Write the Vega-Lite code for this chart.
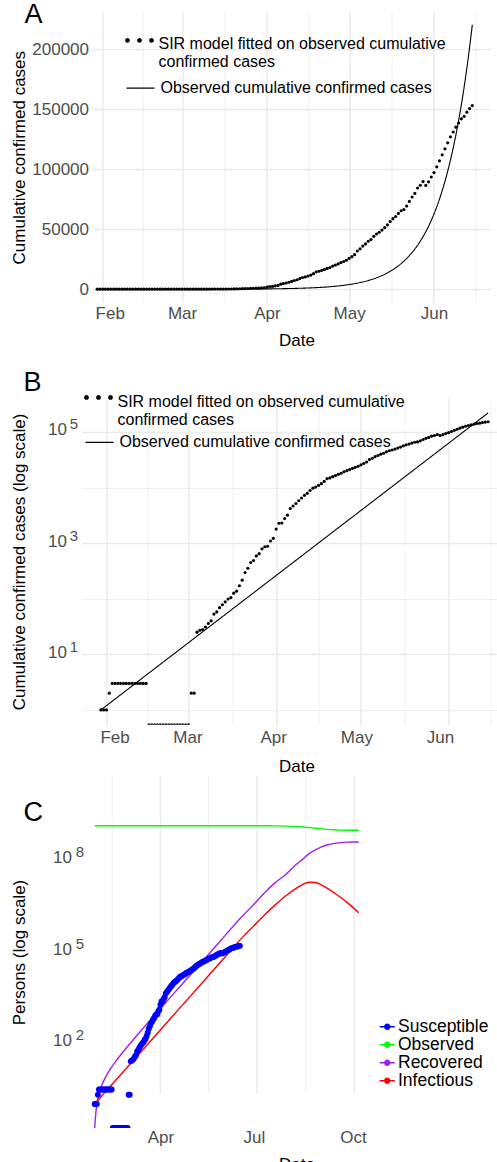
{
  "$schema": "https://vega.github.io/schema/vega-lite/v6.json",
  "background": "white",
  "padding": {"left": 9.5, "top": 1, "right": 0, "bottom": 0},
  "spacing": 0,
  "resolve": {"scale": {"color": "independent", "strokeDash": "independent"}, "legend": {"color": "independent", "strokeDash": "independent"}},
  "config": {
    "font": "Liberation Sans",
    "view": {"stroke": null},
    "axis": {"domain": false, "ticks": false, "grid": true, "gridColor": "#EBEBEB", "labelFontSize": 17, "labelColor": "#4D4D4D", "titleFontSize": 17, "titleFontWeight": "normal", "titleColor": "black", "labelFlush": false, "labelOverlap": false, "labelBound": false},
    "legend": {"labelFontSize": 16, "labelColor": "black", "labelLimit": 600},
    "title": {"fontSize": 27, "fontWeight": "normal", "anchor": "start", "frame": "group", "color": "black", "offset": 0, "baseline": "alphabetic"}
  },
  "datasets": {
    "obs": [
      {"date":"2020-01-30","cases":1},{"date":"2020-01-31","cases":1},{"date":"2020-02-01","cases":1},{"date":"2020-02-02","cases":2},
      {"date":"2020-02-03","cases":3},{"date":"2020-02-04","cases":3},{"date":"2020-02-05","cases":3},{"date":"2020-02-06","cases":3},{"date":"2020-02-07","cases":3},{"date":"2020-02-08","cases":3},{"date":"2020-02-09","cases":3},{"date":"2020-02-10","cases":3},{"date":"2020-02-11","cases":3},{"date":"2020-02-12","cases":3},{"date":"2020-02-13","cases":3},{"date":"2020-02-14","cases":3},{"date":"2020-02-15","cases":3},
      {"date":"2020-02-16","cases":0},{"date":"2020-02-17","cases":0},{"date":"2020-02-18","cases":0},{"date":"2020-02-19","cases":0},{"date":"2020-02-20","cases":0},{"date":"2020-02-21","cases":0},{"date":"2020-02-22","cases":0},{"date":"2020-02-23","cases":0},{"date":"2020-02-24","cases":0},{"date":"2020-02-25","cases":0},{"date":"2020-02-26","cases":0},{"date":"2020-02-27","cases":0},{"date":"2020-02-28","cases":0},{"date":"2020-02-29","cases":0},{"date":"2020-03-01","cases":0},
      {"date":"2020-03-02","cases":2},{"date":"2020-03-03","cases":2},{"date":"2020-03-04","cases":25},{"date":"2020-03-05","cases":27},{"date":"2020-03-06","cases":28},{"date":"2020-03-07","cases":31},{"date":"2020-03-08","cases":36},{"date":"2020-03-09","cases":40},{"date":"2020-03-10","cases":53},{"date":"2020-03-11","cases":58},{"date":"2020-03-12","cases":69},{"date":"2020-03-13","cases":78},{"date":"2020-03-14","cases":88},{"date":"2020-03-15","cases":99},{"date":"2020-03-16","cases":105},{"date":"2020-03-17","cases":126},{"date":"2020-03-18","cases":137},{"date":"2020-03-19","cases":171},{"date":"2020-03-20","cases":216},{"date":"2020-03-21","cases":295},{"date":"2020-03-22","cases":353},{"date":"2020-03-23","cases":448},{"date":"2020-03-24","cases":487},{"date":"2020-03-25","cases":590},{"date":"2020-03-26","cases":648},{"date":"2020-03-27","cases":790},{"date":"2020-03-28","cases":861},{"date":"2020-03-29","cases":880},{"date":"2020-03-30","cases":1093},{"date":"2020-03-31","cases":1223},
      {"date":"2020-04-01","cases":1792},{"date":"2020-04-02","cases":2280},{"date":"2020-04-03","cases":2303},{"date":"2020-04-04","cases":2778},{"date":"2020-04-05","cases":3187},{"date":"2020-04-06","cases":4205},{"date":"2020-04-07","cases":4658},{"date":"2020-04-08","cases":5167},{"date":"2020-04-09","cases":5793},{"date":"2020-04-10","cases":6486},{"date":"2020-04-11","cases":7245},{"date":"2020-04-12","cases":7888},{"date":"2020-04-13","cases":8861},{"date":"2020-04-14","cases":9756},{"date":"2020-04-15","cases":10207},{"date":"2020-04-16","cases":10940},{"date":"2020-04-17","cases":11772},{"date":"2020-04-18","cases":12920},{"date":"2020-04-19","cases":14440},{"date":"2020-04-20","cases":14922},{"date":"2020-04-21","cases":15722},{"date":"2020-04-22","cases":16454},{"date":"2020-04-23","cases":17320},{"date":"2020-04-24","cases":18094},{"date":"2020-04-25","cases":19271},{"date":"2020-04-26","cases":20166},{"date":"2020-04-27","cases":21093},{"date":"2020-04-28","cases":22151},{"date":"2020-04-29","cases":23092},{"date":"2020-04-30","cases":24145},
      {"date":"2020-05-01","cases":25620},{"date":"2020-05-02","cases":27088},{"date":"2020-05-03","cases":28803},{"date":"2020-05-04","cases":31829},{"date":"2020-05-05","cases":33666},{"date":"2020-05-06","cases":35945},{"date":"2020-05-07","cases":37724},{"date":"2020-05-08","cases":39962},{"date":"2020-05-09","cases":41448},{"date":"2020-05-10","cases":44024},{"date":"2020-05-11","cases":45969},{"date":"2020-05-12","cases":47481},{"date":"2020-05-13","cases":49286},{"date":"2020-05-14","cases":51379},{"date":"2020-05-15","cases":53589},{"date":"2020-05-16","cases":56316},{"date":"2020-05-17","cases":58802},{"date":"2020-05-18","cases":60590},{"date":"2020-05-19","cases":63172},{"date":"2020-05-20","cases":65378},{"date":"2020-05-21","cases":66330},{"date":"2020-05-22","cases":69244},{"date":"2020-05-23","cases":73170},{"date":"2020-05-24","cases":76820},{"date":"2020-05-25","cases":79839},{"date":"2020-05-26","cases":84305},{"date":"2020-05-27","cases":86616},{"date":"2020-05-28","cases":89706},{"date":"2020-05-29","cases":86500},{"date":"2020-05-30","cases":89500},{"date":"2020-05-31","cases":93500},
      {"date":"2020-06-01","cases":97200},{"date":"2020-06-02","cases":102000},{"date":"2020-06-03","cases":107000},{"date":"2020-06-04","cases":112000},{"date":"2020-06-05","cases":117000},{"date":"2020-06-06","cases":122000},{"date":"2020-06-07","cases":127000},{"date":"2020-06-08","cases":131000},{"date":"2020-06-09","cases":135000},{"date":"2020-06-10","cases":138500},{"date":"2020-06-11","cases":142000},{"date":"2020-06-12","cases":144000},{"date":"2020-06-13","cases":147500},{"date":"2020-06-14","cases":150500},{"date":"2020-06-15","cases":153000}
    ],
    "fit": [
      {"date":"2020-01-30","fitted":1},{"date":"2020-02-03","fitted":1.432},{"date":"2020-02-07","fitted":2.051},{"date":"2020-02-11","fitted":2.938},{"date":"2020-02-15","fitted":4.208},{"date":"2020-02-19","fitted":6.026},{"date":"2020-02-23","fitted":8.631},{"date":"2020-02-27","fitted":12.36},{"date":"2020-03-02","fitted":17.7},{"date":"2020-03-06","fitted":25.36},{"date":"2020-03-10","fitted":36.32},{"date":"2020-03-14","fitted":52.01},{"date":"2020-03-18","fitted":74.49},{"date":"2020-03-22","fitted":106.7},{"date":"2020-03-26","fitted":152.8},{"date":"2020-03-30","fitted":218.8},{"date":"2020-04-03","fitted":313.4},{"date":"2020-04-07","fitted":448.9},{"date":"2020-04-11","fitted":642.9},{"date":"2020-04-15","fitted":920.7},{"date":"2020-04-19","fitted":1318.7},{"date":"2020-04-23","fitted":1888.6},{"date":"2020-04-27","fitted":2705},{"date":"2020-05-01","fitted":3874},{"date":"2020-05-05","fitted":5548},{"date":"2020-05-09","fitted":7946},{"date":"2020-05-11","fitted":9509},{"date":"2020-05-13","fitted":11380},{"date":"2020-05-15","fitted":13619},{"date":"2020-05-17","fitted":16299},{"date":"2020-05-19","fitted":19506},{"date":"2020-05-21","fitted":23344},{"date":"2020-05-23","fitted":27937},{"date":"2020-05-25","fitted":33433},{"date":"2020-05-27","fitted":40011},{"date":"2020-05-29","fitted":47883},{"date":"2020-05-31","fitted":57303},{"date":"2020-06-02","fitted":68578},{"date":"2020-06-04","fitted":82069},{"date":"2020-06-06","fitted":98218},{"date":"2020-06-08","fitted":117543},{"date":"2020-06-10","fitted":140668},{"date":"2020-06-12","fitted":168343},{"date":"2020-06-14","fitted":201466},{"date":"2020-06-15","fitted":220394}
    ],
    "sir": [
      {"date":"2020-01-30","series":"Observed","value":1334000000},{"date":"2020-03-30","series":"Observed","value":1334000000},{"date":"2020-05-29","series":"Observed","value":1334000000},{"date":"2020-06-28","series":"Observed","value":1333000000},{"date":"2020-07-08","series":"Observed","value":1324000000},{"date":"2020-07-18","series":"Observed","value":1313000000},{"date":"2020-07-28","series":"Observed","value":1294000000},{"date":"2020-08-07","series":"Observed","value":1251000000},{"date":"2020-08-13","series":"Observed","value":1213000000},{"date":"2020-08-19","series":"Observed","value":1157000000},{"date":"2020-08-25","series":"Observed","value":1102000000},{"date":"2020-08-31","series":"Observed","value":1050000000},{"date":"2020-09-06","series":"Observed","value":1007000000},{"date":"2020-09-12","series":"Observed","value":976000000},{"date":"2020-09-18","series":"Observed","value":956000000},{"date":"2020-09-24","series":"Observed","value":945000000},{"date":"2020-09-30","series":"Observed","value":942000000},{"date":"2020-10-05","series":"Observed","value":941000000},
      {"date":"2020-01-30","series":"Recovered","value":0},{"date":"2020-01-31","series":"Recovered","value":0.47},{"date":"2020-02-01","series":"Recovered","value":0.99},{"date":"2020-02-03","series":"Recovered","value":2.18},{"date":"2020-02-06","series":"Recovered","value":4.41},{"date":"2020-02-09","series":"Recovered","value":7.33},{"date":"2020-02-14","series":"Recovered","value":14.4},{"date":"2020-02-19","series":"Recovered","value":25.4},{"date":"2020-02-29","series":"Recovered","value":70},{"date":"2020-03-10","series":"Recovered","value":180},{"date":"2020-03-30","series":"Recovered","value":1120},{"date":"2020-04-19","series":"Recovered","value":6835},{"date":"2020-05-09","series":"Recovered","value":41585},{"date":"2020-05-29","series":"Recovered","value":252900},{"date":"2020-06-18","series":"Recovered","value":1538000},{"date":"2020-06-28","series":"Recovered","value":3460000},{"date":"2020-07-08","series":"Recovered","value":8250000},{"date":"2020-07-18","series":"Recovered","value":17800000},{"date":"2020-07-28","series":"Recovered","value":33000000},{"date":"2020-08-07","series":"Recovered","value":71000000},{"date":"2020-08-13","series":"Recovered","value":105000000},{"date":"2020-08-19","series":"Recovered","value":158000000},{"date":"2020-08-25","series":"Recovered","value":214000000},{"date":"2020-08-31","series":"Recovered","value":269000000},{"date":"2020-09-06","series":"Recovered","value":316000000},{"date":"2020-09-12","series":"Recovered","value":350000000},{"date":"2020-09-18","series":"Recovered","value":372000000},{"date":"2020-09-24","series":"Recovered","value":385000000},{"date":"2020-09-30","series":"Recovered","value":389000000},{"date":"2020-10-05","series":"Recovered","value":391000000},
      {"date":"2020-01-30","series":"Infectious","value":1},{"date":"2020-02-19","series":"Infectious","value":6.081},{"date":"2020-03-10","series":"Infectious","value":36.98},{"date":"2020-03-30","series":"Infectious","value":225},{"date":"2020-04-19","series":"Infectious","value":1368},{"date":"2020-05-09","series":"Infectious","value":8318},{"date":"2020-05-29","series":"Infectious","value":50582},{"date":"2020-06-18","series":"Infectious","value":307600},{"date":"2020-06-28","series":"Infectious","value":692000},{"date":"2020-07-08","series":"Infectious","value":1550000},{"date":"2020-07-18","series":"Infectious","value":3310000},{"date":"2020-07-28","series":"Infectious","value":6610000},{"date":"2020-08-07","series":"Infectious","value":11750000},{"date":"2020-08-13","series":"Infectious","value":15500000},{"date":"2020-08-19","series":"Infectious","value":18600000},{"date":"2020-08-25","series":"Infectious","value":18200000},{"date":"2020-08-31","series":"Infectious","value":15100000},{"date":"2020-09-06","series":"Infectious","value":11500000},{"date":"2020-09-12","series":"Infectious","value":8300000},{"date":"2020-09-18","series":"Infectious","value":5900000},{"date":"2020-09-24","series":"Infectious","value":4070000},{"date":"2020-09-30","series":"Infectious","value":2690000},{"date":"2020-10-05","series":"Infectious","value":1860000}
    ],
    "cgrid": [
      {"date":"2020-02-15T12:00:00Z","kind":"minor"},{"date":"2020-04-01T00:00:00Z","kind":"major"},{"date":"2020-05-16T12:00:00Z","kind":"minor"},{"date":"2020-07-01T00:00:00Z","kind":"major"},{"date":"2020-08-16T00:00:00Z","kind":"minor"},{"date":"2020-10-01T00:00:00Z","kind":"major"}
    ]
  },
  "vconcat": [
    {
      "hconcat": [
        {"width": 12, "height": 1, "data": {"values": []}, "mark": {"type": "point", "opacity": 0}, "encoding": {}},
        {
          "width": 397,
          "height": 290.4,
          "title": {"text": "A", "dx": -69, "dy": 21.4},
          "layer": [
            {
              "data": {"name": "obs"},
              "mark": {"type": "point", "filled": true, "size": 10, "opacity": 1},
              "encoding": {
                "x": {"field": "date", "type": "temporal",
                  "scale": {"type": "utc", "domain": [1580224896000, 1592752896000]},
                  "axis": {"values": [1580515200000, 1581768000000, 1583020800000, 1584360000000, 1585699200000, 1586995200000, 1588291200000, 1589630400000, 1590969600000, 1592265600000],
                    "labelExpr": "utcdate(datum.value) == 1 ? utcFormat(datum.value, '%b') : ''",
                    "gridWidth": {"condition": {"test": "utcdate(datum.value) == 1", "value": 1.5}, "value": 0.75},
                    "labelBaseline": "middle", "labelPadding": 11,
                    "labelOffset": {"condition": {"test": "utcmonth(datum.value) == 1", "value": 7}, "value": 0},
                    "title": ["Date", " "], "titleLineHeight": 19.8, "titleX": 203, "titleY": 30, "titleBaseline": "top"}},
                "y": {"field": "cases", "type": "quantitative",
                  "scale": {"domain": [-11000, 231000], "nice": false, "zero": false},
                  "axis": {"values": [0, 25000, 50000, 75000, 100000, 125000, 150000, 175000, 200000, 225000],
                    "labelExpr": "datum.value % 50000 == 0 ? format(datum.value, 'd') : ''",
                    "gridWidth": {"condition": {"test": "datum.value % 50000 == 0", "value": 1.5}, "value": 0.75},
                    "labelPadding": 5,
                    "title": "Cumulative confirmed cases", "titleX": -74, "titleY": 145.2, "titleBaseline": "middle", "titleAlign": "center", "titleAngle": 270}},
                "color": {"datum": "SIR model fitted on observed cumulative confirmed cases", "type": "nominal",
                  "scale": {"range": ["black"]},
                  "legend": {"orient": "none", "legendX": 44, "legendY": 23.4, "title": null, "padding": 0,
                    "labelFontSize": 16, "labelLineHeight": 20, "labelOffset": 5, "labelBaseline": "alphabetic",
                    "symbolSize": 784, "symbolStrokeWidth": 0, "symbolOpacity": 1,
                    "symbolType": "M-1.027,-0.65A0.17,0.17,0,1,1,-0.687,-0.65A0.17,0.17,0,1,1,-1.027,-0.65ZM-0.17,-0.65A0.17,0.17,0,1,1,0.17,-0.65A0.17,0.17,0,1,1,-0.17,-0.65ZM0.687,-0.65A0.17,0.17,0,1,1,1.027,-0.65A0.17,0.17,0,1,1,0.687,-0.65Z",
                    "labelExpr": "['SIR model fitted on observed cumulative', 'confirmed cases']"}}
              }
            },
            {
              "data": {"name": "fit"},
              "mark": {"type": "line", "strokeWidth": 1.1, "interpolate": "monotone", "color": "black"},
              "encoding": {
                "x": {"field": "date", "type": "temporal"},
                "y": {"field": "fitted", "type": "quantitative"},
                "strokeDash": {"datum": "Observed cumulative confirmed cases", "type": "nominal",
                  "scale": {"range": [[1, 0]]},
                  "legend": {"orient": "none", "legendX": 44, "legendY": 61.2, "title": null, "padding": 0,
                    "labelFontSize": 16, "labelOffset": 5,
                    "symbolSize": 784, "symbolStrokeWidth": 1.2, "symbolStrokeColor": "black", "symbolType": "M-1,0L1,0", "symbolOpacity": 1}}
              }
            }
          ]
        }
      ],
      "spacing": 0,
      "bounds": "flush"
    },
    {
      "width": 426,
      "height": 326.8,
      "title": {"text": "B", "dx": -58, "dy": 8.8},
      "resolve": {"scale": {"y": "independent"}},
      "layer": [
        {
          "data": {"name": "obs"},
          "mark": {"type": "point", "filled": true, "size": 10, "opacity": 1, "clip": true},
          "encoding": {
            "x": {"field": "date", "type": "temporal",
              "scale": {"type": "utc", "domain": [1579750560000, 1592771040000]},
              "axis": {"values": [1580515200000, 1581768000000, 1583020800000, 1584360000000, 1585699200000, 1586995200000, 1588291200000, 1589630400000, 1590969600000, 1592265600000],
                "labelExpr": "utcdate(datum.value) == 1 ? utcFormat(datum.value, '%b') : ''",
                "gridWidth": {"condition": {"test": "utcdate(datum.value) == 1", "value": 1.5}, "value": 0.75},
                "labelBaseline": "middle", "labelPadding": 12.6,
                "labelOffset": {"condition": [
                  {"test": "utcmonth(datum.value) == 1", "value": 8},
                  {"test": "utcmonth(datum.value) == 2", "value": -1},
                  {"test": "utcmonth(datum.value) == 3", "value": -3},
                  {"test": "utcmonth(datum.value) == 4", "value": -4.5},
                  {"test": "utcmonth(datum.value) == 5", "value": -8.5}], "value": 0},
                "title": "Date", "titleX": 215, "titleY": 34, "titleBaseline": "top"}},
            "y": {"field": "cases", "type": "quantitative",
              "scale": {"type": "log", "domain": [0.5395, 408800], "nice": false, "clamp": true},
              "axis": {"orient": "left", "values": [1, 10, 100, 1000, 10000, 100000],
                "labelExpr": "datum.value == 10 || datum.value == 1000 || datum.value == 100000 ? '10' : ''",
                "gridWidth": {"condition": {"test": "datum.value == 10 || datum.value == 1000 || datum.value == 100000", "value": 1.5}, "value": 0.75},
                "labelPadding": 15, "labelOffset": -2,
                "title": "Cumulative confirmed cases (log scale)", "titleX": -62, "titleY": 163.4, "titleBaseline": "middle", "titleAlign": "center", "titleAngle": 270}},
            "color": {"datum": "SIR model fitted on observed cumulative confirmed cases", "type": "nominal",
              "scale": {"range": ["black"]},
              "legend": {"orient": "none", "legendX": 3, "legendY": -5.5, "title": null, "padding": 0,
                "labelFontSize": 16, "labelLineHeight": 20, "labelOffset": 5, "labelBaseline": "alphabetic",
                "symbolSize": 784, "symbolStrokeWidth": 0, "symbolOpacity": 1,
                "symbolType": "M-1.027,-0.65A0.17,0.17,0,1,1,-0.687,-0.65A0.17,0.17,0,1,1,-1.027,-0.65ZM-0.17,-0.65A0.17,0.17,0,1,1,0.17,-0.65A0.17,0.17,0,1,1,-0.17,-0.65ZM0.687,-0.65A0.17,0.17,0,1,1,1.027,-0.65A0.17,0.17,0,1,1,0.687,-0.65Z",
                "labelExpr": "['SIR model fitted on observed cumulative', 'confirmed cases']"}}
          }
        },
        {
          "data": {"name": "fit"},
          "mark": {"type": "line", "strokeWidth": 1.1, "clip": true, "color": "black"},
          "encoding": {
            "x": {"field": "date", "type": "temporal"},
            "y": {"field": "fitted", "type": "quantitative",
              "scale": {"type": "log", "domain": [0.5395, 408800], "nice": false, "clamp": true},
              "axis": {"orient": "left", "values": [10, 1000, 100000], "grid": false, "title": null,
                "labelExpr": "datum.value == 10 ? '1' : datum.value == 1000 ? '3' : '5'",
                "labelFontSize": 15, "labelPadding": 4, "labelOffset": -8}},
            "strokeDash": {"datum": "Observed cumulative confirmed cases", "type": "nominal",
              "scale": {"range": [[1, 0]]},
              "legend": {"orient": "none", "legendX": 3, "legendY": 29.4, "title": null, "padding": 0,
                "labelFontSize": 16, "labelOffset": 5,
                "symbolSize": 784, "symbolStrokeWidth": 1.2, "symbolStrokeColor": "black", "symbolType": "M-1,0L1,0", "symbolOpacity": 1}}
          }
        }
      ]
    },
    {
      "width": 290.4,
      "height": 352,
      "title": {"text": "C", "dx": -58, "dy": 56},
      "resolve": {"scale": {"y": "independent"}},
      "layer": [
        {
          "data": {"name": "cgrid"},
          "mark": {"type": "rule", "color": "#EBEBEB"},
          "encoding": {
            "x": {"field": "date", "type": "temporal"},
            "y": {"datum": 2.1, "type": "quantitative", "scale": {"type": "log", "domain": [0.1633, 56750000000], "nice": false}, "axis": null},
            "y2": {"datum": 56750000000},
            "strokeWidth": {"condition": {"test": "datum.kind == 'major'", "value": 1.5}, "value": 0.75}
          }
        },
        {
          "data": {"name": "sir"},
          "mark": {"type": "line", "strokeWidth": 1.4, "interpolate": "monotone", "clip": true},
          "encoding": {
            "x": {"field": "date", "type": "temporal",
              "scale": {"type": "utc", "domain": [1579266720000, 1602931680000]},
              "axis": {"values": [1581768000000, 1585699200000, 1589630400000, 1593561600000, 1597536000000, 1601510400000],
                "grid": false,
                "labelExpr": "utcdate(datum.value) == 1 ? utcFormat(datum.value, '%b') : ''",
                "labelBaseline": "middle", "labelPadding": 9,
                "labelOffset": {"condition": [
                  {"test": "utcmonth(datum.value) == 6", "value": -3},
                  {"test": "utcmonth(datum.value) == 9", "value": -1.5}], "value": 0},
                "title": "Date", "titleX": 215, "titleY": 28, "titleBaseline": "top"}},
            "y": {"field": "value", "type": "quantitative",
              "scale": {"type": "log", "domain": [0.1633, 56750000000], "nice": false, "clamp": true},
              "axis": {"orient": "left", "values": [3.16227766, 100, 3162.27766, 100000, 3162277.66, 100000000, 3162277660],
                "labelExpr": "datum.value == 100 || datum.value == 100000 || datum.value == 100000000 ? '10' : ''",
                "gridWidth": {"condition": {"test": "datum.value == 100 || datum.value == 100000 || datum.value == 100000000", "value": 1.5}, "value": 0.75},
                "labelPadding": 10, "labelOffset": -2,
                "title": "Persons (log scale)", "titleX": -62, "titleY": 176, "titleBaseline": "middle", "titleAlign": "center", "titleAngle": 270}},
            "color": {"field": "series", "type": "nominal",
              "scale": {"domain": ["Susceptible", "Observed", "Recovered", "Infectious"], "range": ["#0000FF", "#00FF00", "#A020F0", "#FF0000"]},
              "legend": {"orient": "none", "legendX": 297, "legendY": 242, "title": null, "padding": 0,
                "labelFontSize": 17.5, "labelOffset": 2, "rowPadding": -2.5,
                "symbolSize": 225, "symbolStrokeWidth": 1.5,
                "symbolType": "M-1,0L1,0M-0.33,0A0.33,0.33,0,1,1,0.33,0A0.33,0.33,0,1,1,-0.33,0Z"}}
          }
        },
        {
          "data": {"name": "obs"},
          "mark": {"type": "point", "filled": true, "size": 35, "opacity": 1, "clip": true},
          "encoding": {
            "x": {"field": "date", "type": "temporal"},
            "y": {"field": "cases", "type": "quantitative",
              "scale": {"type": "log", "domain": [0.1633, 56750000000], "nice": false, "clamp": true},
              "axis": {"orient": "left", "values": [100, 100000, 100000000], "grid": false, "title": null,
                "labelExpr": "datum.value == 100 ? '2' : datum.value == 100000 ? '5' : '8'",
                "labelFontSize": 15, "labelPadding": -2, "labelOffset": -8}},
            "color": {"datum": "Susceptible", "type": "nominal"}
          }
        }
      ]
    }
  ]
}
